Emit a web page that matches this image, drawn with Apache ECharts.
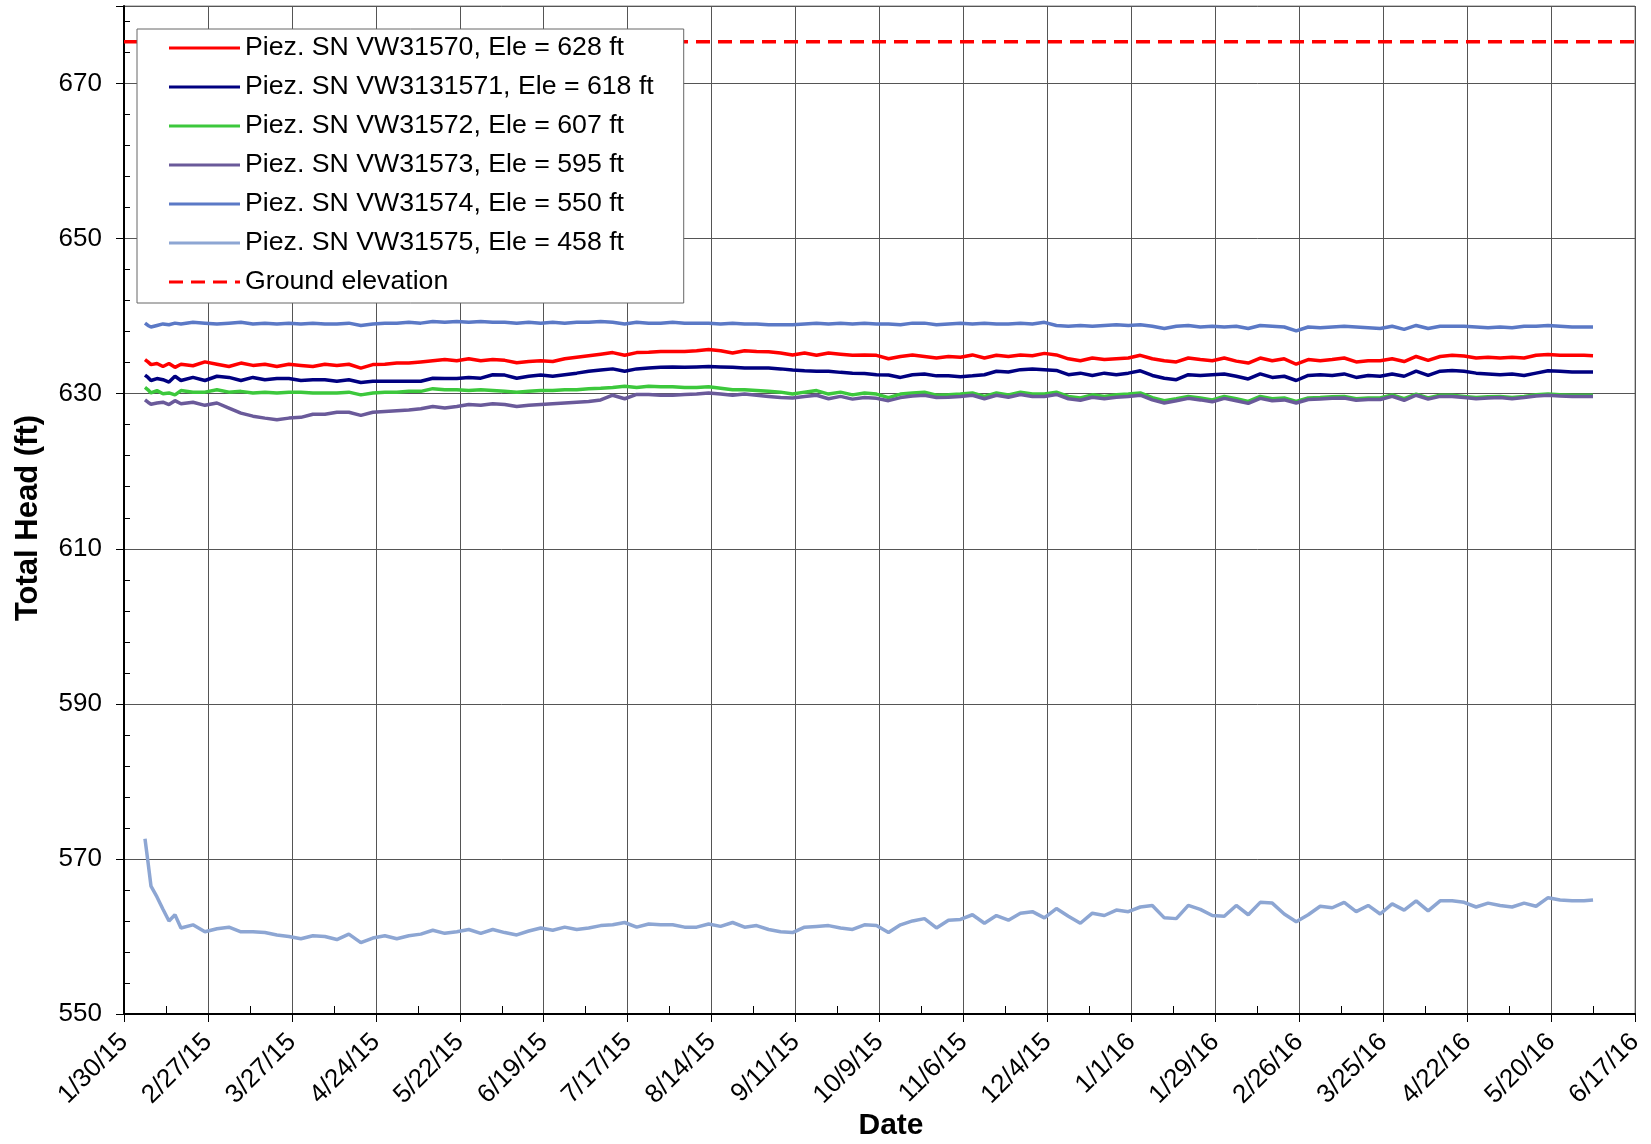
<!DOCTYPE html>
<html><head><meta charset="utf-8">
<script src="https://cdn.jsdelivr.net/npm/echarts/dist/echarts.min.js"></script>
<style>html,body{margin:0;padding:0;background:#fff}#c{width:1651px;height:1144px}</style>
</head><body><div id="c"></div>
<script>
// x tick labels (every 28 days starting 1/30/15)
const tickLabels = ['1/30/15','2/27/15','3/27/15','4/24/15','5/22/15','6/19/15','7/17/15','8/14/15','9/11/15','10/9/15','11/6/15','12/4/15','1/1/16','1/29/16','2/26/16','3/25/16','4/22/16','5/20/16','6/17/16'];

// sample days (days after 1/30/15)
const days = [7,8,9,11,13,15,17,19,23,27,
31,35,39,43,47,51,55,59,63,67,
71,75,79,83,87,91,95,99,103,107,
111,115,119,123,127,131,135,139,143,147,
151,155,159,163,167,171,175,179,183,187,
191,195,199,203,207,211,215,219,223,227,
231,235,239,243,247,251,255,259,263,267,
271,275,279,283,287,291,295,299,303,307,
311,315,319,323,327,331,335,339,343,347,
351,355,359,363,367,371,375,379,383,387,
391,395,399,403,407,411,415,419,423,427,
431,435,439,443,447,451,455,459,463,467,
471,475,479,483,487,490];

const vw31570 = [634.4,634.1,633.75,633.9,633.5,633.9,633.4,633.8,633.6,634.1,
633.8,633.5,633.95,633.65,633.8,633.5,633.8,633.65,633.5,633.8,
633.65,633.8,633.3,633.75,633.8,633.95,633.95,634.1,634.25,634.4,
634.25,634.5,634.25,634.4,634.3,634.0,634.15,634.25,634.15,634.5,
634.7,634.9,635.1,635.3,634.95,635.3,635.35,635.45,635.45,635.45,
635.55,635.7,635.55,635.25,635.55,635.45,635.4,635.25,635.0,635.25,
634.95,635.25,635.1,634.95,635.0,634.95,634.5,634.8,635.0,634.8,
634.6,634.8,634.7,635.0,634.6,634.95,634.8,635.0,634.9,635.2,
635.0,634.5,634.25,634.6,634.4,634.5,634.6,634.95,634.5,634.25,
634.1,634.6,634.4,634.25,634.6,634.2,633.95,634.6,634.25,634.5,
633.8,634.4,634.25,634.4,634.6,634.1,634.25,634.25,634.5,634.15,
634.8,634.3,634.8,634.95,634.85,634.6,634.7,634.6,634.7,634.6,
634.95,635.05,634.95,634.95,634.95,634.9];

const vw3131571 = [632.4,632.1,631.7,631.95,631.8,631.5,632.25,631.7,632.1,631.7,
632.25,632.1,631.7,632.1,631.8,631.95,631.95,631.7,631.8,631.8,
631.6,631.8,631.45,631.6,631.6,631.6,631.6,631.6,632.0,631.95,
631.95,632.1,632.0,632.45,632.4,632.0,632.25,632.4,632.25,632.45,
632.65,632.9,633.05,633.2,632.9,633.2,633.3,633.4,633.45,633.4,
633.45,633.5,633.45,633.4,633.3,633.3,633.3,633.2,633.05,632.95,
632.9,632.9,632.75,632.65,632.6,632.45,632.4,632.1,632.45,632.55,
632.3,632.3,632.2,632.3,632.45,632.9,632.8,633.1,633.2,633.1,
633.0,632.45,632.65,632.35,632.65,632.45,632.65,632.95,632.35,632.0,
631.8,632.45,632.35,632.45,632.55,632.25,631.9,632.55,632.1,632.25,
631.7,632.35,632.45,632.35,632.55,632.1,632.35,632.25,632.55,632.25,
632.9,632.35,632.9,633.0,632.9,632.65,632.55,632.45,632.55,632.35,
632.65,632.95,632.9,632.8,632.8,632.8];

const vw31572 = [630.8,630.5,630.1,630.4,630.0,630.1,629.85,630.4,630.2,630.2,
630.5,630.2,630.3,630.1,630.2,630.1,630.2,630.2,630.1,630.1,
630.1,630.2,629.85,630.1,630.2,630.2,630.3,630.3,630.65,630.5,
630.5,630.4,630.5,630.4,630.3,630.2,630.3,630.4,630.4,630.5,
630.5,630.65,630.7,630.8,630.95,630.8,630.95,630.9,630.9,630.8,
630.8,630.9,630.7,630.5,630.5,630.4,630.3,630.2,629.95,630.2,
630.4,629.95,630.2,629.85,630.1,629.95,629.5,629.95,630.1,630.2,
629.8,629.85,629.95,630.1,629.65,630.1,629.85,630.2,629.95,629.95,
630.2,629.65,629.45,629.85,629.65,629.85,629.95,630.1,629.5,629.1,
629.35,629.65,629.45,629.2,629.65,629.35,629.0,629.65,629.35,629.45,
629.0,629.45,629.5,629.6,629.65,629.35,629.45,629.45,629.85,629.35,
629.95,629.45,629.8,629.8,629.65,629.5,629.6,629.65,629.5,629.65,
629.85,629.95,629.85,629.8,629.8,629.8];

const vw31573 = [629.2,628.9,628.65,628.8,628.9,628.6,629.1,628.7,628.9,628.5,
628.8,628.15,627.5,627.1,626.85,626.65,626.85,626.95,627.35,627.35,
627.6,627.6,627.2,627.6,627.7,627.8,627.9,628.05,628.35,628.15,
628.35,628.6,628.5,628.7,628.6,628.35,628.5,628.6,628.7,628.8,
628.9,629.0,629.2,629.8,629.35,629.9,629.9,629.8,629.8,629.9,
629.95,630.1,629.95,629.8,629.95,629.8,629.65,629.5,629.45,629.65,
629.8,629.35,629.65,629.3,629.5,629.4,629.1,629.5,629.7,629.8,
629.5,629.55,629.65,629.8,629.35,629.8,629.55,629.9,629.65,629.65,
629.9,629.35,629.15,629.55,629.35,629.55,629.65,629.8,629.2,628.8,
629.1,629.4,629.2,628.95,629.4,629.1,628.75,629.4,629.1,629.2,
628.8,629.25,629.3,629.4,629.45,629.15,629.25,629.25,629.65,629.15,
629.8,629.3,629.65,629.65,629.5,629.35,629.45,629.5,629.35,629.5,
629.7,629.8,629.7,629.65,629.65,629.65];

const vw31574 = [639.1,638.8,638.6,638.8,639.0,638.9,639.1,639.0,639.2,639.1,
639.0,639.1,639.2,639.0,639.1,639.0,639.1,639.0,639.1,639.0,
639.0,639.1,638.8,639.0,639.1,639.1,639.2,639.1,639.3,639.2,
639.3,639.2,639.3,639.2,639.2,639.1,639.2,639.1,639.2,639.1,
639.2,639.2,639.3,639.2,639.0,639.2,639.1,639.1,639.2,639.1,
639.1,639.1,639.0,639.1,639.0,639.0,638.9,638.9,638.9,639.0,
639.1,639.0,639.1,639.0,639.1,639.0,639.0,638.9,639.1,639.1,
638.9,639.0,639.1,639.0,639.1,639.0,639.0,639.1,639.0,639.2,
638.8,638.7,638.8,638.7,638.8,638.9,638.8,638.9,638.7,638.4,
638.7,638.8,638.6,638.7,638.6,638.7,638.4,638.8,638.7,638.6,
638.1,638.6,638.5,638.6,638.7,638.6,638.5,638.4,638.7,638.3,
638.8,638.4,638.7,638.7,638.7,638.6,638.5,638.6,638.5,638.7,
638.7,638.8,638.7,638.6,638.6,638.6];

const vw31575 = [572.6,569.6,566.5,565.1,563.5,562.0,562.8,561.1,561.5,560.6,
561.0,561.2,560.6,560.6,560.5,560.2,560.0,559.7,560.1,560.0,
559.6,560.3,559.2,559.8,560.1,559.7,560.1,560.3,560.8,560.4,
560.6,560.9,560.4,560.9,560.5,560.2,560.7,561.1,560.8,561.2,
560.9,561.1,561.4,561.5,561.8,561.2,561.6,561.5,561.5,561.2,
561.2,561.6,561.3,561.8,561.2,561.4,560.9,560.6,560.5,561.2,
561.3,561.4,561.1,560.9,561.5,561.4,560.5,561.5,562.0,562.3,
561.1,562.1,562.2,562.8,561.7,562.7,562.1,563.0,563.2,562.4,
563.6,562.6,561.7,563.0,562.7,563.4,563.2,563.8,564.0,562.4,
562.3,564.0,563.5,562.7,562.6,564.0,562.8,564.4,564.3,562.9,
561.9,562.8,563.9,563.7,564.4,563.2,564.0,562.9,564.2,563.4,
564.6,563.3,564.6,564.6,564.4,563.8,564.3,564.0,563.8,564.3,
563.9,565.0,564.7,564.6,564.6,564.7];

const groundDays = [0, 504];
const groundElev = [675.4, 675.4];

const names = ['Piez. SN VW31570, Ele = 628 ft','Piez. SN VW3131571, Ele = 618 ft','Piez. SN VW31572, Ele = 607 ft','Piez. SN VW31573, Ele = 595 ft','Piez. SN VW31574, Ele = 550 ft','Piez. SN VW31575, Ele = 458 ft','Ground elevation'];
const colors = ['#FF0000','#000080','#3CC83C','#6A5A9A','#5B79C6','#8DA6D3','#FF0000'];
const seriesVals = [vw31570, vw3131571, vw31572, vw31573, vw31574, vw31575];

const FF = '"Liberation Sans", Arial, sans-serif';
const chart = echarts.init(document.getElementById('c'), null, {renderer:'canvas'});

const series = seriesVals.map((vals, k) => ({
  name: names[k], type: 'line', symbol: 'none', showSymbol: false, animation: false,
  data: days.map((d, i) => [d, vals[i]]),
  lineStyle: {color: colors[k], width: 3.5}, itemStyle: {color: colors[k]},
  emphasis: {disabled: true}
}));
series.push({
  name: names[6], type: 'line', symbol: 'none', showSymbol: false, animation: false,
  data: groundDays.map((d, i) => [d, groundElev[i]]),
  lineStyle: {color: colors[6], width: 3.5, type: [14, 8]}, itemStyle: {color: colors[6]},
  emphasis: {disabled: true}
});

const dashIcon = 'path://M0,0h14v3h-14z M22,0h14v3h-14z M44,0h14v3h-14z M66,0h5v3h-5z';
const legendData = names.map((n, k) => ({name: n, icon: k === 6 ? dashIcon : 'rect'}));

chart.setOption({
  animation: false,
  backgroundColor: '#fff',
  grid: {left: 124, right: 16, top: 6, bottom: 130, containLabel: false, outerBoundsMode: 'none',
         show: true, borderColor: '#888', borderWidth: 1, backgroundColor: 'transparent'},
  legend: {
    orient: 'vertical', left: 137, top: 29, padding: [4, 30, 6, 32],
    itemWidth: 71, itemHeight: 3, itemGap: 9,
    backgroundColor: '#fff', borderColor: '#666', borderWidth: 1, borderRadius: 0,
    textStyle: {fontSize: 26.7, fontFamily: FF, color: '#000', lineHeight: 30},
    data: legendData, selectedMode: false
  },
  xAxis: {
    type: 'value', min: 0, max: 504, interval: 28,
    name: 'Date', nameLocation: 'middle', nameGap: 97, nameMoveOverlap: false,
    nameTextStyle: {fontSize: 30, fontWeight: 'bold', fontFamily: FF, color: '#000', padding: [0, 0, 0, 23]},
    axisLine: {show: true, onZero: false, lineStyle: {color: '#000', width: 2}},
    axisTick: {show: true, length: 8, inside: false, lineStyle: {color: '#000', width: 1}},
    minorTick: {show: true, splitNumber: 2, length: -8, lineStyle: {color: '#000', width: 1}},
    splitLine: {show: true, lineStyle: {color: '#555', width: 1}},
    minorSplitLine: {show: false},
    axisLabel: {fontSize: 26, fontFamily: FF, color: '#000', rotate: 45, margin: 24,
      formatter: v => { const i = Math.round(v / 28); return tickLabels[i] || ''; }}
  },
  yAxis: {
    type: 'value', min: 550, max: 680, interval: 20,
    name: 'Total Head (ft)', nameLocation: 'middle', nameGap: 80, nameRotate: 90, nameMoveOverlap: false,
    nameTextStyle: {fontSize: 31, fontWeight: 'bold', fontFamily: FF, color: '#000', padding: [0, 16, 0, 0]},
    axisLine: {show: true, onZero: false, lineStyle: {color: '#000', width: 2}},
    axisTick: {show: true, length: 8, inside: false, lineStyle: {color: '#000', width: 1}},
    minorTick: {show: true, splitNumber: 5, length: -6, lineStyle: {color: '#000', width: 1}},
    splitLine: {show: true, lineStyle: {color: '#555', width: 1}},
    minorSplitLine: {show: false},
    axisLabel: {fontSize: 26, fontFamily: FF, color: '#000', margin: 22,
      formatter: v => (v === 680 ? '' : String(v))}
  },
  series: series
});
</script></body></html>
